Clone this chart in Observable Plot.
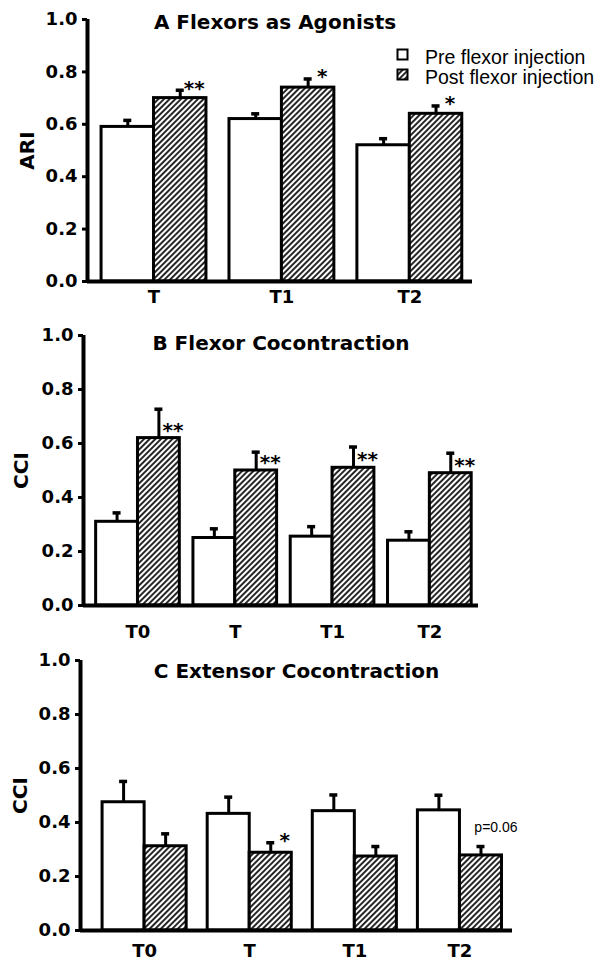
<!DOCTYPE html>
<html><head><meta charset="utf-8">
<script src="https://cdn.jsdelivr.net/npm/d3@7"></script>
<script src="https://cdn.jsdelivr.net/npm/@observablehq/plot@0.6"></script>
<style>
body{margin:0;background:#fff;}
#wrap{position:relative;width:603px;height:962px;overflow:hidden;background:#fff;}
.panel{position:absolute;left:0;}
.leg{position:absolute;font-family:"Liberation Sans",Arial,sans-serif;font-size:19.5px;line-height:20px;color:#000;white-space:nowrap;}
.sw{position:absolute;}
</style></head>
<body>
<svg width="0" height="0" style="position:absolute">
<defs>
<pattern id="hatch" patternUnits="userSpaceOnUse" width="4" height="4" patternTransform="rotate(45)">
<rect width="4" height="4" fill="#fff"/>
<line x1="2" y1="-1" x2="2" y2="5" stroke="#000" stroke-width="1.7"/>
</pattern>
</defs></svg>
<div id="wrap"></div>
<script>
// ---- data ----
const groupsA = ["T", "T1", "T2"];
const preA = [0.59, 0.62, 0.52];
const preErrA = [0.025, 0.02, 0.025];
const postA = [0.70, 0.74, 0.64];
const postErrA = [0.03, 0.033, 0.03];
const sigA = ["**", "*", "*"];

const groupsB = ["T0", "T", "T1", "T2"];
const preB = [0.31, 0.25, 0.255, 0.24];
const preErrB = [0.033, 0.034, 0.037, 0.033];
const postB = [0.62, 0.50, 0.51, 0.49];
const postErrB = [0.107, 0.068, 0.077, 0.074];
const sigB = ["**", "**", "**", "**"];

const groupsC = ["T0", "T", "T1", "T2"];
const preC = [0.475, 0.432, 0.442, 0.445];
const preErrC = [0.077, 0.062, 0.06, 0.056];
const postC = [0.312, 0.288, 0.274, 0.278];
const postErrC = [0.046, 0.037, 0.037, 0.033];
const sigC = ["", "*", "", ""];
const noteC = ["", "", "", "p=0.06"];

const yTicks = [0, 0.2, 0.4, 0.6, 0.8, 1.0];
const titles = ["A Flexors as Agonists", "B Flexor Cocontraction", "C Extensor Cocontraction"];
const yLabels = ["ARI", "CCI", "CCI"];
const legendLabels = ["Pre flexor injection", "Post flexor injection"];

// ---- layout ----
const BOLD = "'DejaVu Sans', sans-serif";
const panels = [
  {groups: groupsA, pre: preA, preErr: preErrA, post: postA, postErr: postErrA, sig: sigA, note: null,
   title: titles[0], ylabel: yLabels[0], top: 0, height: 320, mL: 87, mR: 131, mT: 19, mB: 39,
   xDomain: [-0.52, 2.49], W: 0.41, xPad: 9, titleDx: -5, titleDy: -5, ylabelDx: -60, starOnMean: false, starDy: -2},
  {groups: groupsB, pre: preB, preErr: preErrB, post: postB, postErr: postErrB, sig: sigB, note: null,
   title: titles[1], ylabel: yLabels[1], top: 320, height: 320, mL: 83, mR: 125, mT: 15, mB: 35,
   xDomain: [-0.56, 3.5], W: 0.43, xPad: 20, titleDx: 0, titleDy: 0, ylabelDx: -62, starOnMean: true, starDy: -8},
  {groups: groupsC, pre: preC, preErr: preErrC, post: postC, postErr: postErrC, sig: sigC, note: noteC,
   title: titles[2], ylabel: yLabels[2], top: 640, height: 322, mL: 80, mR: 91, mT: 20, mB: 32,
   xDomain: [-0.61, 3.5], W: 0.40, xPad: 14, titleDx: 0, titleDy: 3, ylabelDx: -60, starOnMean: false, starDy: -2}
];

function makePanel(cfg) {
  const rows = cfg.groups.map((g, i) => ({
    g, i,
    pre: cfg.pre[i], preTop: cfg.pre[i] + cfg.preErr[i],
    post: cfg.post[i], postTop: cfg.post[i] + cfg.postErr[i],
    sig: cfg.sig[i], note: cfg.note ? cfg.note[i] : ""
  }));
  const W = cfg.W;
  const cPre = d => d.i - W / 2;
  const cPost = d => d.i + W / 2;
  return Plot.plot({
    width: 603, height: cfg.height,
    marginLeft: cfg.mL, marginRight: cfg.mR, marginTop: cfg.mT, marginBottom: cfg.mB,
    x: {type: "linear", domain: cfg.xDomain},
    y: {type: "linear", domain: [0, 1]},
    style: {fontFamily: BOLD, fontWeight: "bold", fontSize: "18px", color: "#000", background: "transparent", overflow: "visible"},
    marks: [
      Plot.rectY(rows, {x1: d => d.i - W, x2: d => d.i, y1: 0, y2: "pre", fill: "white", stroke: "black", strokeWidth: 3}),
      Plot.rectY(rows, {x1: d => d.i, x2: d => d.i + W, y1: 0, y2: "post", fill: "url(#hatch)", stroke: "black", strokeWidth: 3}),
      Plot.ruleX(rows, {x: cPre, y1: "pre", y2: "preTop", stroke: "black", strokeWidth: 3}),
      Plot.ruleX(rows, {x: cPost, y1: "post", y2: "postTop", stroke: "black", strokeWidth: 3}),
      Plot.ruleY(rows, {y: "preTop", x1: cPre, x2: cPre, insetLeft: -4, insetRight: -4, stroke: "black", strokeWidth: 3.5}),
      Plot.ruleY(rows, {y: "postTop", x1: cPost, x2: cPost, insetLeft: -4, insetRight: -4, stroke: "black", strokeWidth: 3.5}),
      Plot.ruleY([0], {stroke: "black", strokeWidth: 4}),
      Plot.ruleX([cfg.xDomain[0]], {y1: 0, y2: 1, stroke: "black", strokeWidth: 4}),
      Plot.axisY({ticks: yTicks, tickFormat: d3.format(".1f"), tickSize: 5, tickPadding: 5, strokeWidth: 3,
                  fontSize: 18, fontWeight: "bold", fontFamily: BOLD, label: null}),
      Plot.axisX({ticks: rows.map(d => d.i), tickFormat: i => cfg.groups[i], tickSize: 0, tickPadding: cfg.xPad,
                  fontSize: 18, fontWeight: "bold", fontFamily: BOLD, label: null}),
      Plot.text(rows.filter(d => d.sig), {x: cPost, y: cfg.starOnMean ? "post" : "postTop", text: "sig",
                  textAnchor: "middle", lineAnchor: "middle", dx: 14, dy: cfg.starDy, fontSize: 20, fontWeight: "bold", fill: "black"}),
      Plot.text(rows.filter(d => d.note), {x: cPost, y: "postTop", text: "note", textAnchor: "middle", lineAnchor: "middle",
                  dx: 15, dy: -19.5, fontSize: 14, fontWeight: "normal", fontFamily: "'Liberation Sans', Arial, sans-serif", fill: "black"}),
      Plot.text([cfg.title], {frameAnchor: "top", lineAnchor: "top", dx: cfg.titleDx, dy: cfg.titleDy, fontSize: 20, fontWeight: "bold", fill: "black"}),
      Plot.text([cfg.ylabel], {frameAnchor: "left", rotate: -90, textAnchor: "middle", lineAnchor: "middle", dx: cfg.ylabelDx, fontSize: 20, fontWeight: "bold", fill: "black"})
    ]
  });
}

const wrap = document.getElementById("wrap");
for (const cfg of panels) {
  const div = document.createElement("div");
  div.className = "panel";
  div.style.top = cfg.top + "px";
  div.appendChild(makePanel(cfg));
  wrap.appendChild(div);
}

// ---- legend (panel A) ----
const legFills = ["#fff", "url(#hatch)"];
const legTops = [46.5, 66.5];
legendLabels.forEach((lab, k) => {
  const sw = document.createElementNS("http://www.w3.org/2000/svg", "svg");
  sw.setAttribute("class", "sw");
  sw.setAttribute("width", "13");
  sw.setAttribute("height", "13");
  sw.style.left = "396px";
  sw.style.top = (legTops[k] + 1) + "px";
  const r = document.createElementNS("http://www.w3.org/2000/svg", "rect");
  r.setAttribute("x", "1.5"); r.setAttribute("y", "1.5");
  r.setAttribute("width", "10"); r.setAttribute("height", "10");
  r.setAttribute("fill", legFills[k]); r.setAttribute("stroke", "#000"); r.setAttribute("stroke-width", "2");
  sw.appendChild(r);
  wrap.appendChild(sw);
  const t = document.createElement("div");
  t.className = "leg";
  t.style.left = "425px";
  t.style.top = legTops[k] + "px";
  t.textContent = lab;
  wrap.appendChild(t);
});
</script>
</body></html>
